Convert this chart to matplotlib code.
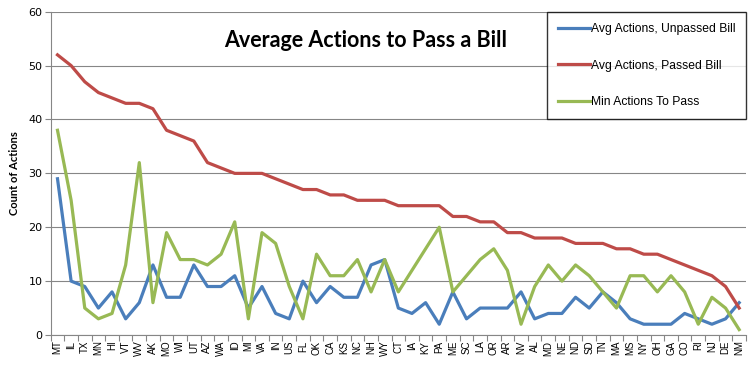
import numpy as np
import matplotlib
matplotlib.use("Agg")
import matplotlib.pyplot as plt
from matplotlib.ticker import FixedLocator

# ---------------------------------------------------------
# Data
# ---------------------------------------------------------
states = ["MT", "IL", "TX", "MN", "HI", "VT", "WV", "AK", "MO", "WI",
          "UT", "AZ", "WA", "ID", "MI", "VA", "IN", "US", "FL", "OK",
          "CA", "KS", "NC", "NH", "WY", "CT", "IA", "KY", "PA", "ME",
          "SC", "LA", "OR", "AR", "NV", "AL", "MD", "NE", "ND", "SD",
          "TN", "MA", "MS", "NY", "OH", "GA", "CO", "RI", "NJ", "DE", "NM"]

avg_unpassed = [29, 10, 9, 5, 8, 3, 6, 13, 7, 7,
                13, 9, 9, 11, 5, 9, 4, 3, 10, 6,
                9, 7, 7, 13, 14, 5, 4, 6, 2, 8,
                3, 5, 5, 5, 8, 3, 4, 4, 7, 5,
                8, 6, 3, 2, 2, 2, 4, 3, 2, 3, 6]

avg_passed = [52, 50, 47, 45, 44, 43, 43, 42, 38, 37,
              36, 32, 31, 30, 30, 30, 29, 28, 27, 27,
              26, 26, 25, 25, 25, 24, 24, 24, 24, 22,
              22, 21, 21, 19, 19, 18, 18, 18, 17, 17,
              17, 16, 16, 15, 15, 14, 13, 12, 11, 9, 5]

min_to_pass = [38, 25, 5, 3, 4, 13, 32, 6, 19, 14,
               14, 13, 15, 21, 3, 19, 17, 9, 3, 15,
               11, 11, 14, 8, 14, 8, 12, 16, 20, 8,
               11, 14, 16, 12, 2, 9, 13, 10, 13, 11,
               8, 5, 11, 11, 8, 11, 8, 2, 7, 5, 1]

series_names = ["Avg Actions, Unpassed Bill", "Avg Actions, Passed Bill", "Min Actions To Pass"]
colors = ["#4A7EBB", "#BE4B48", "#98B954"]
grid_gray = "#868686"

# ---------------------------------------------------------
# Figure
# ---------------------------------------------------------
fig = plt.figure(figsize=(7.53, 3.67), dpi=100)
ax = fig.add_axes([0.0673, 0.0872, 0.9234, 0.8808])

x = np.arange(len(states))
for vals, name, c in zip([avg_unpassed, avg_passed, min_to_pass], series_names, colors):
    ax.plot(x, vals, color=c, lw=2.3, label=name, solid_joinstyle="round", zorder=3)

ax.set_xlim(-0.5, len(states) - 0.5)
ax.set_ylim(0, 60)
ax.set_yticks(range(0, 61, 10))
ax.yaxis.grid(True, color=grid_gray, lw=0.8)
ax.set_axisbelow(True)

# category labels centred, tick marks on the boundaries
ax.set_xticks(x)
ax.set_xticklabels(states, rotation=90, fontsize=7, family="Liberation Sans")
ax.xaxis.set_minor_locator(FixedLocator(np.arange(-0.5, len(states), 1.0)))
ax.tick_params(axis="x", which="major", length=0, pad=4)
ax.tick_params(axis="x", which="minor", length=4, color=grid_gray, width=0.8)
ax.tick_params(axis="y", length=4, color=grid_gray, width=0.8, labelsize=8, pad=2)

for s in ["top", "right"]:
    ax.spines[s].set_visible(False)
for s in ["left", "bottom"]:
    ax.spines[s].set_color(grid_gray)
    ax.spines[s].set_linewidth(0.8)

ax.set_ylabel("Count of Actions", fontsize=8, fontweight="bold", family="Lato", labelpad=6)

ax.text(0.4535, 0.9125, "Average Actions to Pass a Bill", transform=ax.transAxes,
        ha="center", va="center", fontsize=15.5, fontweight="bold", family="Lato")

leg = ax.legend(loc="upper left", bbox_to_anchor=(0.7145, 0.999), borderaxespad=0,
                frameon=True, fancybox=False, prop={"family": "Liberation Sans", "size": 8.7},
                handlelength=2.6, handletextpad=0.1, labelspacing=2.05, borderpad=0.9)
leg.get_frame().set_edgecolor("black")
leg.get_frame().set_linewidth(1.0)
leg.set_zorder(5)

fig.savefig("out.png", dpi=100)
